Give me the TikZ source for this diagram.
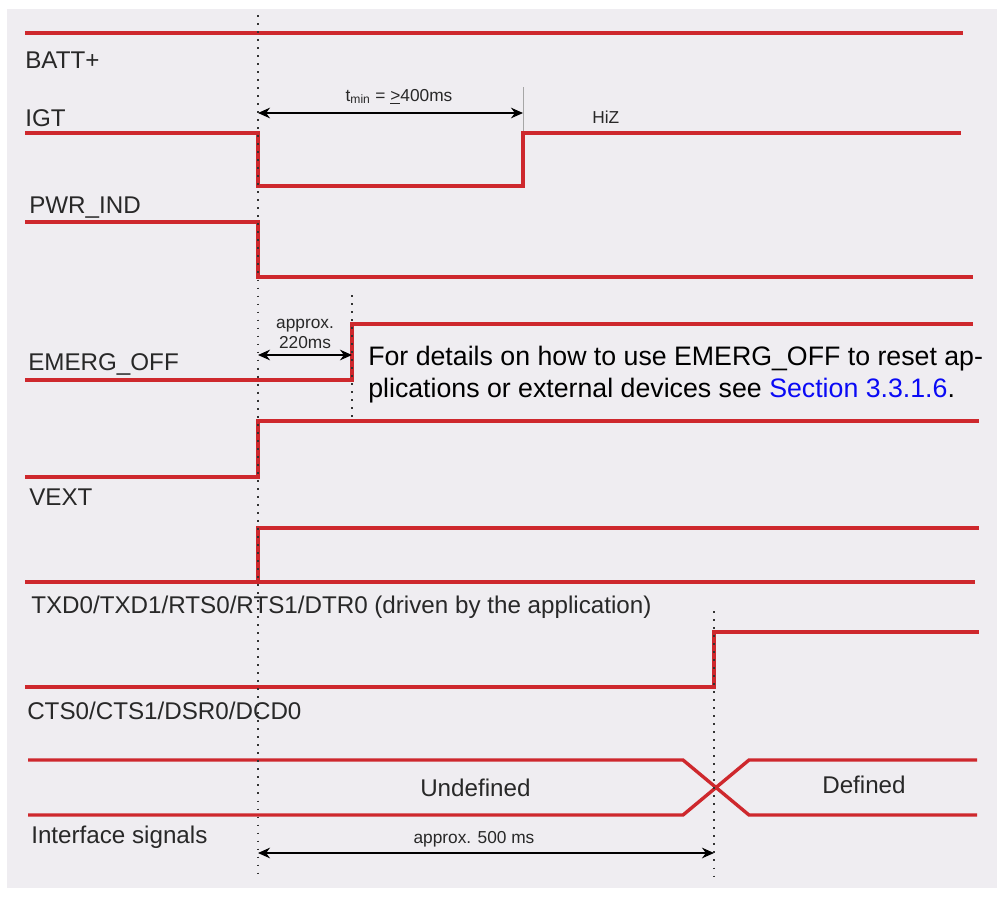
\documentclass[tikz,border=0pt]{standalone}
\usepackage{fontspec}
\setmainfont{Liberation Sans}
\usetikzlibrary{arrows.meta}
\definecolor{sigred}{RGB}{206,40,45}
\definecolor{bggray}{RGB}{239,237,241}
\definecolor{labelgray}{RGB}{40,40,40}
\definecolor{linkblue}{RGB}{10,10,245}
\tikzset{
  signal/.style={sigred, line width=2.4pt},
  guide/.style={black!80, line width=1.4pt, dash pattern=on 1.3pt off 4.4pt},
  timing/.style={{Stealth[length=8.5pt,width=7.5pt]}-{Stealth[length=8.5pt,width=7.5pt]}, line width=1.6pt},
  siglabel/.style={anchor=base west, inner sep=0pt, text=labelgray, font=\fontsize{17.2}{20}\selectfont},
  smalltext/.style={anchor=base, inner sep=0pt, text=labelgray, font=\fontsize{12.3}{14}\selectfont},
  notetext/.style={anchor=base west, inner sep=0pt, font=\fontsize{19}{22}\selectfont}
}

\begin{document}
\begin{tikzpicture}[x=0.025cm,y=-0.025cm]
\useasboundingbox (0,0) rectangle (1002,897);
\fill[bggray] (7,9) rectangle (997,888);

% BATT+
\draw[signal] (25,33) -- (963,33);
\node[siglabel] (batt) at (25,68) {BATT+};

% IGT
\draw[signal] (25,133) -- (258,133) -- (258,186) -- (523,186) -- (523,133) -- (961,133);
\node[siglabel] (igt) at (25,126) {IGT};
\draw[gray!70, line width=0.6pt] (523,87) -- (523,131);
\coordinate (tminL) at (258,113);
\coordinate (tminR) at (523,113);
\draw[timing] (tminL) -- (tminR);
\node[smalltext] (tmin) at (399,101) {t\textsubscript{min} = \underline{>}400ms};
\node[smalltext, anchor=base west] (hiz) at (592,123) {HiZ};

% PWR_IND
\draw[signal] (25,222) -- (258,222) -- (258,277) -- (973,277);
\node[siglabel] (pwr) at (29,213) {PWR\_IND};

% EMERG_OFF
\draw[signal] (25,380) -- (352,380) -- (352,324) -- (973,324);
\node[siglabel] (emerg) at (28,370) {EMERG\_OFF};
\coordinate (offL) at (258,355);
\coordinate (offR) at (352,355);
\draw[timing] (offL) -- (offR);
\node[smalltext] (apx) at (305,328) {approx.};
\node[smalltext] (apxms) at (305,348) {220ms};
\node[notetext] (note1) at (368,365) {For details on how to use EMERG\_OFF to reset ap-};
\node[notetext] (note2) at (368,397) {plications or external devices see \textcolor{linkblue}{Section 3.3.1.6}.};

% VEXT
\draw[signal] (25,477) -- (258,477) -- (258,421) -- (979,421);
\node[siglabel] (vext) at (29,505) {VEXT};

% TXD0/TXD1/RTS0/RTS1/DTR0
\draw[signal] (25,582) -- (975,582);
\draw[signal] (258,582) -- (258,528) -- (979,528);
\node[siglabel] (txd) at (31,613) {TXD0/TXD1/RTS0/RTS1/DTR0 (driven by the application)};

% CTS0/CTS1/DSR0/DCD0
\draw[signal] (25,687) -- (714,687) -- (714,632) -- (979,632);
\node[siglabel] (cts) at (27,719) {CTS0/CTS1/DSR0/DCD0};

% Interface signals
\draw[signal] (28,760) -- (683,760) -- (749,815) -- (977,815);
\draw[signal] (28,815) -- (683,815) -- (749,760) -- (977,760);
\node[siglabel] (undef) at (420,796) {Undefined};
\node[siglabel] (def) at (822,793) {Defined};
\node[siglabel] (iface) at (31,843) {Interface signals};
\coordinate (bootL) at (258,853);
\coordinate (bootR) at (714,853);
\draw[timing] (bootL) -- (bootR);
\node[smalltext] (boot) at (474,843) {approx. 500 ms};

% Dotted guides
\draw[guide] (258,15) -- (258,880);
\draw[guide] (352,295) -- (352,418);
\draw[guide] (714,611) -- (714,880);
\end{tikzpicture}
\end{document}
